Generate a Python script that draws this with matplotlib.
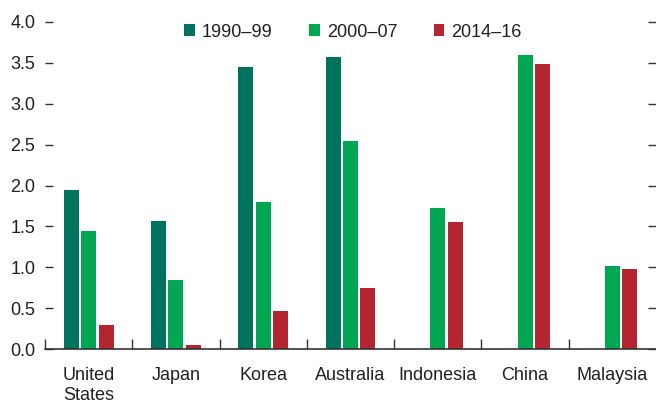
import numpy as np
import matplotlib
matplotlib.use("Agg")
import matplotlib.pyplot as plt
from matplotlib.ticker import FixedLocator

plt.rcParams['font.family'] = ['Liberation Sans', 'DejaVu Sans']

countries = ["United\nStates", "Japan", "Korea", "Australia", "Indonesia", "China", "Malaysia"]
periods = ["1990–99", "2000–07", "2014–16"]
colors = ["#00735F", "#00A651", "#B5252F"]

v_1990_99 = [1.95, 1.56, 3.45, 3.57, np.nan, np.nan, np.nan]
v_2000_07 = [1.44, 0.85, 1.80, 2.55, 1.72, 3.60, 1.02]
v_2014_16 = [0.29, 0.05, 0.47, 0.75, 1.55, 3.49, 0.98]
series = [v_1990_99, v_2000_07, v_2014_16]

fig = plt.figure(figsize=(6.56, 4.04), dpi=100)
ax = fig.add_axes([45 / 656, 1 - 349 / 404, 611 / 656, 327 / 404])

x = np.arange(len(countries))
width = 0.172
step = 0.2
for i, (vals, name, c) in enumerate(zip(series, periods, colors)):
    ax.bar(x + (i - 1) * step, vals, width, color=c, label=name)

ax.set_xlim(-0.5, len(countries) - 0.5)
ax.set_ylim(0, 4.0)
ax.set_yticks(np.arange(0, 4.01, 0.5))
ax.set_yticklabels([f"{v:.1f}" for v in np.arange(0, 4.01, 0.5)])
ax.tick_params(axis='y', direction='in', left=True, right=True, length=6,
               width=1, color='#333333', labelsize=13, pad=7, labelcolor='#231f20')

ax.set_xticks(x)
ax.set_xticklabels(countries, va='top', linespacing=1.25)
ax.tick_params(axis='x', which='major', length=0, labelsize=13, pad=13, labelcolor='#231f20')
ax.xaxis.set_minor_locator(FixedLocator(np.arange(-0.5, len(countries) - 0.5, 1)))
ax.tick_params(axis='x', which='minor', direction='in', length=7, width=1, color='#333333')

for s in ['left', 'right', 'top']:
    ax.spines[s].set_visible(False)
ax.spines['bottom'].set_color('#333333')
ax.spines['bottom'].set_linewidth(1.2)

ax.legend(loc='upper center', bbox_to_anchor=(0.504, 1.045), ncol=3, frameon=False,
          fontsize=13, handlelength=0.6, handleheight=0.6, columnspacing=2.0,
          handletextpad=0.4, labelcolor='#231f20')

fig.savefig("out.png", dpi=100)
